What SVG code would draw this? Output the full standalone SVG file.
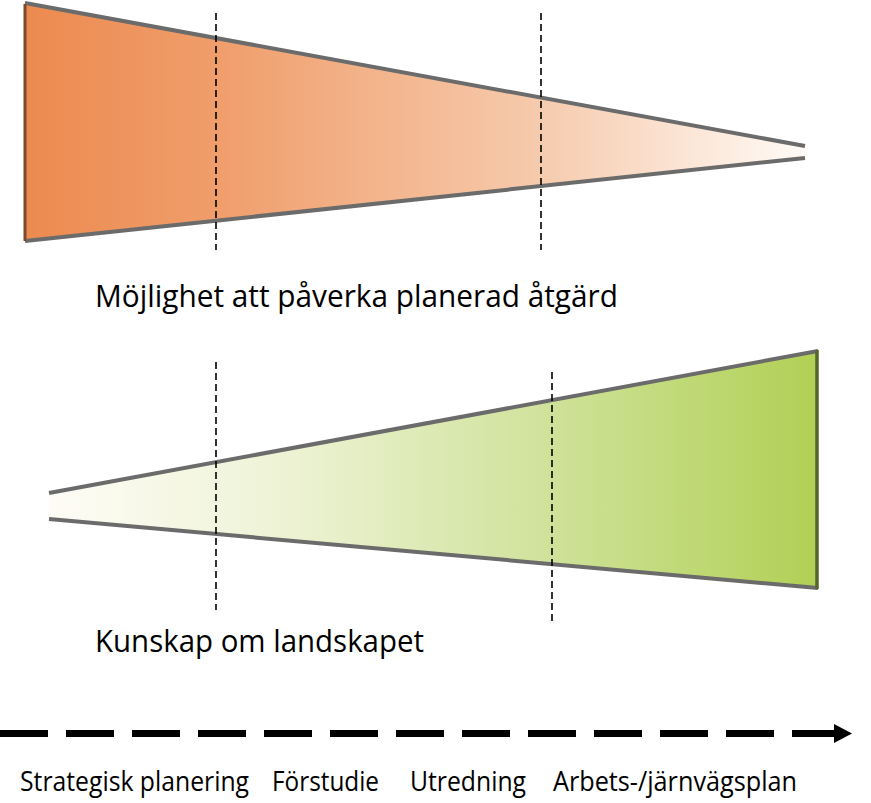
<svg xmlns="http://www.w3.org/2000/svg" width="871" height="803" viewBox="0 0 871 803">
  <defs>
    <linearGradient id="gOrange" gradientUnits="userSpaceOnUse" x1="25" y1="0" x2="810" y2="0">
      <stop offset="0" stop-color="#EC8A50"/>
      <stop offset="0.25" stop-color="#F09E6C"/>
      <stop offset="0.65" stop-color="#F6CAAC"/>
      <stop offset="1" stop-color="#FFFBF7"/>
    </linearGradient>
    <linearGradient id="gGreen" gradientUnits="userSpaceOnUse" x1="49" y1="0" x2="818" y2="0">
      <stop offset="0" stop-color="#FEFCF6"/>
      <stop offset="0.3" stop-color="#EEF3D6"/>
      <stop offset="0.65" stop-color="#CFE29A"/>
      <stop offset="1" stop-color="#B1D055"/>
    </linearGradient>
    <style>
      .edge { stroke: #6b6b6b; stroke-width: 4; fill: none; stroke-linecap: butt; }
      .vdash { stroke: #000; stroke-width: 1.6; stroke-dasharray: 7 4; fill: none; }
      .title { font-family: "Open Sans", "Noto Sans", "Liberation Sans", sans-serif; font-size: 31px; fill: #000; }
      .stage { font-family: "Open Sans", "Noto Sans", "Liberation Sans", sans-serif; font-size: 27px; fill: #000; }
    </style>
  </defs>
  <rect width="871" height="803" fill="#fff"/>

  <g id="wedge-orange">
    <polygon points="25,3 805,146 805,158 25,241" fill="url(#gOrange)"/>
    <line class="edge" x1="25" y1="3" x2="805" y2="146"/>
    <line class="edge" x1="25" y1="241" x2="805" y2="158"/>
    <line x1="25" y1="4" x2="25" y2="241" stroke="#7A4A2A" stroke-width="3"/>
  </g>

  <g id="wedge-green">
    <polygon points="49,493 818,351 818,588 49,519" fill="url(#gGreen)"/>
    <line class="edge" x1="49" y1="493" x2="818" y2="351"/>
    <line class="edge" x1="49" y1="519" x2="818" y2="588"/>
    <line x1="817" y1="350" x2="817" y2="589" stroke="#55662A" stroke-width="3.5"/>
  </g>

  <g id="connectors">
    <line class="vdash" x1="216" y1="13" x2="216" y2="250"/>
    <line class="vdash" x1="541" y1="13" x2="541" y2="250"/>
    <line class="vdash" x1="216" y1="362" x2="216" y2="610"/>
    <line class="vdash" x1="552" y1="372" x2="552" y2="622"/>
    <g id="timeline">
      <line x1="0" y1="733.5" x2="840" y2="733.5" stroke="#000" stroke-width="7" stroke-dasharray="48 18"/>
      <polygon points="834,724 852,733.5 834,743" fill="#000"/>
    </g>
  </g>

  <g id="label-mojlighet">
    <text class="title" x="95" y="307" textLength="523" lengthAdjust="spacingAndGlyphs">Möjlighet att påverka planerad åtgärd</text>
  </g>
  <g id="label-kunskap">
    <text class="title" x="95" y="652" textLength="329" lengthAdjust="spacingAndGlyphs">Kunskap om landskapet</text>
  </g>
  <g id="stages">
    <text class="stage" x="20" y="791" textLength="229" lengthAdjust="spacingAndGlyphs">Strategisk planering</text>
    <text class="stage" x="272" y="791" textLength="107" lengthAdjust="spacingAndGlyphs">Förstudie</text>
    <text class="stage" x="410" y="791" textLength="116" lengthAdjust="spacingAndGlyphs">Utredning</text>
    <text class="stage" x="553" y="791" textLength="244" lengthAdjust="spacingAndGlyphs">Arbets-/järnvägsplan</text>
  </g>
</svg>
